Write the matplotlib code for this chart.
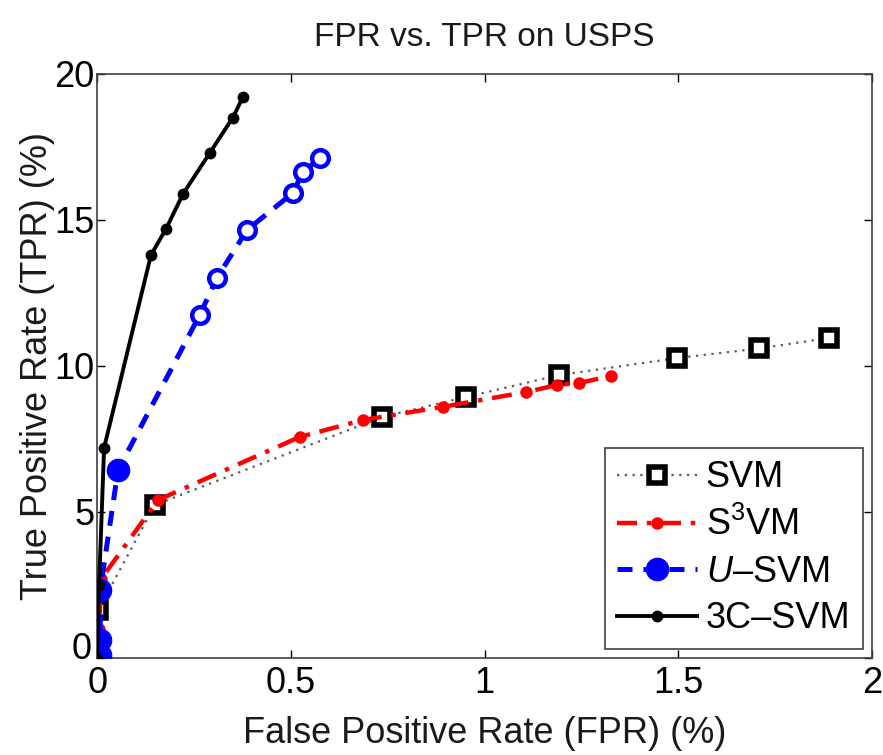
import matplotlib
matplotlib.use('Agg')
import matplotlib.pyplot as plt
import matplotlib.transforms as mtransforms
from matplotlib.lines import Line2D

plt.rcParams['font.family'] = ['Liberation Sans', 'DejaVu Sans']
plt.rcParams['mathtext.fontset'] = 'custom'
plt.rcParams['mathtext.rm'] = 'Liberation Sans'
plt.rcParams['mathtext.it'] = 'Liberation Sans:italic'

# values (FPR %, TPR %)
svm_fpr = [0, 0.003, 0.003, 0.149, 0.735, 0.953, 1.193, 1.497, 1.709, 1.89]
svm_tpr = [0, 0.3, 1.65, 5.24, 8.25, 8.94, 9.69, 10.27, 10.6, 10.96]

s3vm_fpr = [0, 0.005, 0.01, 0.157, 0.523, 0.686, 0.892, 1.108, 1.188, 1.245, 1.327]
s3vm_tpr = [0, 1.0, 2.7, 5.41, 7.57, 8.15, 8.6, 9.11, 9.35, 9.42, 9.66]

usvm_fpr = [0.008, 0.008, 0.008, 0.054, 0.265, 0.309, 0.387, 0.505, 0.531, 0.575]
usvm_tpr = [0.1, 0.62, 2.33, 6.44, 11.75, 13.01, 14.66, 15.92, 16.64, 17.12]
usvm_filled = 4  # first points drawn as filled dots

c3svm_fpr = [0, 0.005, 0.018, 0.139, 0.178, 0.222, 0.291, 0.350, 0.376]
c3svm_tpr = [0, 2.5, 7.2, 13.8, 14.7, 15.9, 17.3, 18.5, 19.2]

xticks = [0, 0.5, 1, 1.5, 2]
xtick_labels = ['0', '0.5', '1', '1.5', '2']
yticks = [0, 5, 10, 15, 20]

fig = plt.figure(figsize=(8.83, 7.55), dpi=100)
ax = fig.add_axes([0.11, 0.1285, 0.8775, 0.7735])

svm_ls = (0, (1, 2.5))
s3_ls = (0, (4.5, 2.2, 1, 2.2))
u_ls = (0, (3, 2.2))

# SVM: dotted with square markers
ax.plot(svm_fpr, svm_tpr, linestyle=svm_ls, color='0.35', linewidth=1.6, zorder=2)
ax.plot(svm_fpr, svm_tpr, linestyle='none', marker='s', markersize=11,
        markerfacecolor='white', markeredgecolor='black', markeredgewidth=4, zorder=3)

# S3VM: red dash-dot with dots
ax.plot(s3vm_fpr, s3vm_tpr, linestyle=s3_ls, color='red', linewidth=3.2,
        marker='.', markersize=16, zorder=4)

# U-SVM: blue dashed, circles
ax.plot(usvm_fpr, usvm_tpr, linestyle=u_ls, color='blue', linewidth=3.6, zorder=5)
ax.plot(usvm_fpr[:usvm_filled], usvm_tpr[:usvm_filled], linestyle='none', marker='o',
        markersize=16, color='blue', zorder=6)
ax.plot(usvm_fpr[usvm_filled:], usvm_tpr[usvm_filled:], linestyle='none', marker='o',
        markersize=12, markerfacecolor='white', markeredgecolor='blue', markeredgewidth=3.2, zorder=6)

# 3C-SVM: solid black with dots
ax.plot(c3svm_fpr, c3svm_tpr, '-', color='black', linewidth=2.8, marker='.', markersize=15, zorder=7)

ax.set_xlim(0, 2)
ax.set_ylim(0, 20)
ax.set_xticks(xticks)
ax.set_xticklabels(xtick_labels)
ax.set_yticks(yticks)
ax.tick_params(direction='in', top=True, right=True, labelsize=26, length=6, width=1)
ax.tick_params(axis='x', pad=6)
ax.tick_params(axis='y', pad=2)
for s in ax.spines.values():
    s.set_linewidth(1.2)
    s.set_color('0.25')

# the y "0" sits a little above the axis, like the original
lab0 = ax.get_yticklabels()[0]
lab0.set_transform(lab0.get_transform() + mtransforms.ScaledTranslation(-2 / 72, 9 / 72, fig.dpi_scale_trans))

ax.text(0.5, 1.062, 'FPR vs. TPR on USPS', transform=ax.transAxes, fontsize=24,
        ha='center', va='center', color='0.1')
ax.set_xlabel('False Positive Rate (FPR) (%)', fontsize=26, color='0.1')
ax.set_ylabel('True Positive Rate (TPR) (%)', fontsize=26, color='0.1')
ax.xaxis.set_label_coords(0.5, -0.13)
ax.yaxis.set_label_coords(-0.077, 0.5)
ax.xaxis.label.set_va('center')
ax.yaxis.label.set_va('center')

handles = [
    Line2D([], [], linestyle=svm_ls, color='0.35', linewidth=1.6, marker='s', markersize=11,
           markerfacecolor='white', markeredgecolor='black', markeredgewidth=4),
    Line2D([], [], linestyle=s3_ls, color='red', linewidth=3.2, marker='.', markersize=16),
    Line2D([], [], linestyle=u_ls, color='blue', linewidth=3.6, marker='o', markersize=16),
    Line2D([], [], linestyle='-', color='black', linewidth=2.8, marker='.', markersize=15),
]
labels = ['SVM', 'S$^3$VM', '$U$–SVM', '3C–SVM']
leg = ax.legend(handles, labels, loc='lower right', fontsize=26, fancybox=False,
                edgecolor='0.25', framealpha=1, handlelength=2.2, handletextpad=0.25,
                borderpad=0.35, labelspacing=0.32, borderaxespad=0.25)
leg.get_frame().set_linewidth(1.2)

fig.savefig('out.png', dpi=100)
